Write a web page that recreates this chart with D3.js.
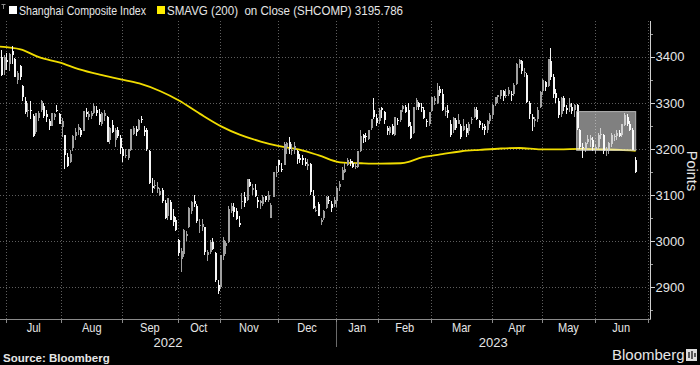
<!DOCTYPE html>
<html>
<head>
<meta charset="utf-8">
<script src="https://cdn.jsdelivr.net/npm/d3@7"></script>
<style>
body { margin: 0; background: #000; }
svg { display: block; }
text { font-family: "Liberation Sans", Arial, sans-serif; fill: #e6e6e6; }
</style>
</head>
<body>
<svg width="700" height="365"></svg>
<script>
// daily candles, one array per month: [day, open, high, low, close]
var jun22 = [[28,3380,3410,3375,3409],[29,3400,3414,3358,3361],[30,3372,3404,3360,3399]]
var jul22 = [[1,3393,3408,3372,3388],[4,3385,3408,3370,3405],[5,3412,3424,3385,3404],[6,3395,3397,3355,3356],
    [7,3350,3370,3340,3364],[8,3380,3381,3350,3356],[11,3337,3339,3305,3313],[12,3305,3313,3275,3281],
    [13,3284,3299,3270,3284],[14,3284,3303,3266,3282],[15,3272,3275,3226,3228],[18,3236,3279,3232,3278],
    [19,3267,3282,3260,3279],[20,3285,3307,3280,3305],[21,3293,3300,3268,3272],[22,3275,3284,3258,3270],
    [25,3260,3266,3242,3250],[26,3250,3278,3250,3277],[27,3269,3278,3262,3275],[28,3285,3296,3280,3282],
    [29,3275,3279,3253,3253]]
var aug22 = [[1,3247,3268,3225,3260],[2,3230,3230,3156,3186],[3,3183,3192,3160,3164],[4,3172,3197,3170,3189],
    [5,3203,3230,3195,3227],[8,3227,3245,3220,3236],[9,3240,3255,3230,3247],[10,3240,3246,3225,3230],
    [11,3238,3283,3238,3282],[12,3280,3288,3270,3276],[15,3270,3283,3262,3276],[16,3271,3282,3265,3277],
    [17,3278,3299,3275,3293],[18,3285,3294,3272,3278],[19,3275,3286,3252,3258],[22,3253,3280,3250,3277],
    [23,3271,3284,3260,3277],[24,3270,3272,3214,3216],[25,3220,3248,3210,3246],[26,3252,3262,3235,3236],
    [29,3220,3246,3205,3240],[30,3240,3247,3224,3228],[31,3223,3230,3190,3202]]
var sep22 = [[1,3200,3204,3172,3184],[2,3186,3200,3180,3186],[5,3180,3200,3175,3199],[6,3197,3243,3196,3243],
    [7,3232,3250,3230,3246],[8,3243,3250,3228,3236],[9,3240,3264,3238,3262],[13,3265,3272,3256,3263],
    [14,3240,3249,3227,3237],[15,3240,3245,3196,3199],[16,3195,3198,3125,3126],[19,3120,3138,3105,3115],
    [20,3120,3133,3114,3122],[21,3113,3128,3105,3117],[22,3100,3115,3098,3108],[23,3110,3115,3083,3088],
    [26,3082,3090,3048,3051],[27,3054,3094,3046,3093],[28,3085,3090,3045,3045],[29,3055,3069,3033,3041],
    [30,3045,3053,3021,3024]]
var oct22 = [[10,3002,3004,2968,2974],[11,2962,2986,2934,2979],[12,2973,3026,2966,3025],[13,3012,3021,3000,3016],
    [14,3030,3075,3028,3071],[17,3065,3088,3060,3084],[18,3088,3101,3075,3081],[19,3077,3080,3040,3044],
    [20,3035,3048,3017,3035],[21,3030,3048,3021,3038],[24,3030,3030,2969,2977],[25,2970,2980,2956,2976],
    [26,2976,3002,2972,2999],[27,2998,3007,2980,2983],[28,2975,2977,2912,2916],[31,2905,2916,2885,2893]]
var nov22 = [[1,2900,2970,2896,2969],[2,2967,3010,2960,3003],[3,2990,3000,2972,2997],[4,2998,3076,2995,3070],
    [7,3065,3082,3062,3077],[8,3075,3082,3052,3064],[9,3065,3073,3045,3048],[10,3040,3055,3030,3036],
    [11,3085,3105,3070,3087],[14,3095,3106,3075,3083],[15,3090,3135,3088,3134],[16,3129,3135,3118,3120],
    [17,3111,3123,3100,3115],[18,3110,3125,3096,3097],[21,3090,3095,3072,3085],[22,3083,3090,3070,3088],
    [23,3080,3100,3076,3096],[24,3097,3099,3085,3089],[25,3090,3108,3086,3101],[28,3050,3083,3050,3078],
    [29,3095,3150,3095,3149],[30,3150,3162,3140,3151]]
var dec22 = [[1,3175,3175,3150,3165],[2,3157,3169,3150,3156],[5,3165,3214,3165,3211],[6,3205,3215,3190,3212],
    [7,3215,3226,3190,3199],[8,3195,3210,3186,3197],[9,3198,3214,3190,3206],[12,3195,3197,3167,3179],
    [13,3180,3190,3170,3176],[14,3180,3186,3166,3176],[15,3171,3180,3163,3168],[16,3163,3178,3155,3167],
    [19,3168,3170,3100,3107],[20,3098,3110,3070,3073],[21,3068,3076,3063,3068],[22,3080,3085,3054,3054],
    [23,3042,3050,3035,3045],[26,3050,3067,3045,3065],[27,3073,3098,3070,3095],[28,3090,3097,3080,3087],
    [29,3080,3087,3064,3073],[30,3080,3095,3075,3089]]
var jan23 = [[3,3087,3119,3074,3116],[4,3117,3130,3109,3123],[5,3132,3160,3132,3155],[6,3151,3170,3148,3157],
    [9,3166,3180,3163,3176],[10,3174,3178,3162,3169],[11,3170,3174,3158,3161],[12,3163,3170,3156,3163],
    [13,3160,3195,3158,3195],[16,3195,3240,3194,3228],[17,3230,3232,3212,3224],[18,3228,3235,3215,3225],
    [19,3222,3241,3220,3240],[20,3245,3265,3240,3265],[30,3285,3310,3265,3269],[31,3268,3275,3250,3256]]
var feb23 = [[1,3260,3288,3255,3285],[2,3288,3290,3268,3285],[3,3280,3282,3255,3263],[6,3245,3250,3230,3238],
    [7,3235,3250,3230,3248],[8,3250,3254,3230,3232],[9,3230,3270,3228,3270],[10,3263,3268,3252,3260],
    [13,3262,3285,3258,3284],[14,3286,3295,3280,3293],[15,3290,3295,3278,3280],[16,3285,3300,3248,3249],
    [17,3250,3258,3222,3224],[20,3235,3290,3232,3290],[21,3290,3310,3285,3307],[22,3300,3302,3285,3291],
    [23,3292,3300,3280,3288],[24,3285,3290,3265,3267],[27,3260,3265,3248,3258],[28,3255,3280,3250,3280]]
var mar23 = [[1,3283,3312,3280,3312],[2,3305,3315,3295,3310],[3,3300,3342,3298,3328],[6,3330,3336,3315,3322],
    [7,3320,3330,3283,3285],[8,3280,3290,3272,3283],[9,3285,3295,3268,3277],[10,3255,3262,3226,3230],
    [13,3240,3270,3235,3268],[14,3263,3268,3240,3245],[15,3255,3275,3255,3263],[16,3250,3255,3222,3226],
    [17,3240,3265,3238,3250],[20,3245,3253,3225,3234],[21,3238,3258,3230,3255],[22,3262,3270,3255,3265],
    [23,3270,3290,3268,3286],[24,3285,3290,3262,3266],[27,3260,3262,3245,3251],[28,3248,3256,3240,3245],
    [29,3250,3255,3230,3240],[30,3240,3262,3235,3261],[31,3260,3278,3255,3273]]
var apr23 = [[3,3273,3297,3265,3296],[4,3297,3313,3293,3312],[6,3313,3318,3300,3316],[7,3315,3328,3308,3327],
    [10,3325,3328,3305,3315],[11,3318,3330,3310,3318],[12,3320,3334,3315,3327],[13,3320,3325,3305,3318],
    [14,3320,3342,3315,3338],[17,3340,3386,3338,3385],[18,3385,3396,3375,3393],[19,3390,3393,3362,3370],
    [20,3365,3375,3355,3367],[21,3360,3365,3300,3301],[24,3300,3305,3265,3275],[25,3270,3275,3238,3264],
    [26,3260,3270,3248,3265],[27,3265,3290,3258,3285],[28,3290,3325,3288,3323]]
var may23 = [[4,3325,3352,3318,3350],[5,3345,3348,3325,3334],[8,3336,3396,3335,3395],[9,3390,3418,3350,3357],
    [10,3357,3362,3310,3319],[11,3322,3330,3300,3310],[12,3305,3310,3268,3273],[15,3275,3313,3270,3311],
    [16,3310,3315,3283,3290],[17,3288,3295,3275,3284],[18,3290,3310,3280,3297],[19,3292,3300,3275,3283],
    [22,3285,3298,3270,3296],[23,3296,3298,3240,3246],[24,3240,3243,3200,3204],[25,3205,3212,3180,3201],
    [26,3200,3215,3193,3213],[29,3215,3230,3210,3221],[30,3220,3230,3205,3224],[31,3220,3225,3195,3205]]
var jun23 = [[1,3200,3210,3190,3204],[2,3205,3235,3200,3231],[5,3232,3245,3222,3232],[6,3230,3232,3190,3196],
    [7,3195,3205,3185,3198],[8,3195,3215,3190,3213],[9,3210,3235,3205,3231],[12,3225,3232,3218,3228],
    [13,3228,3240,3220,3234],[14,3235,3240,3225,3229],[15,3230,3255,3225,3253],[16,3252,3279,3250,3273],
    [19,3270,3275,3250,3255],[20,3255,3260,3238,3241],[21,3240,3245,3197,3198],[26,3175,3182,3148,3151]]

var monthKeys = ["2022-06","2022-07","2022-08","2022-09","2022-10","2022-11","2022-12",
    "2023-01","2023-02","2023-03","2023-04","2023-05","2023-06"]
var monthRows = [jun22,jul22,aug22,sep22,oct22,nov22,dec22,jan23,feb23,mar23,apr23,may23,jun23]
// empty trading-day slots left on the axis after the last candle
var trailingSlots = ["2023-06-27","2023-06-28","2023-06-29","2023-06-30"]

// 200-day simple moving average
var smaPoints = [["2022-06-28",3422],["2022-07-08",3416],["2022-07-19",3399],["2022-07-29",3387],
    ["2022-08-09",3373],["2022-08-19",3361],["2022-08-31",3351],["2022-09-09",3342],["2022-09-22",3325],
    ["2022-10-10",3305],["2022-10-20",3276],["2022-11-01",3249],["2022-11-10",3231],["2022-11-22",3216],
    ["2022-12-01",3206],["2022-12-13",3198],["2022-12-22",3186],["2023-01-04",3171],["2023-01-16",3169],
    ["2023-02-01",3168],["2023-02-13",3169],["2023-02-16",3172],["2023-02-22",3180],["2023-03-06",3188],
    ["2023-03-16",3195],["2023-03-27",3198],["2023-04-07",3201],["2023-04-18",3202],["2023-04-28",3199],
    ["2023-05-12",3199],["2023-05-24",3200],["2023-06-05",3199],["2023-06-14",3198],["2023-06-26",3196]]
var smaLast = "3195.786"

var boxFrom = "2023-05-23", boxTo = "2023-06-26", boxLow = 3197, boxHigh = 3281

var yTicks = [2900,3000,3100,3200,3300,3400]
var yMinorTicks = [2850,2950,3050,3150,3250,3350,3450]
var monthNames = ["Jul","Aug","Sep","Oct","Nov","Dec","Jan","Feb","Mar","Apr","May","Jun"]
var yearLabels = ["2022","2023"]

// ---- build rows
var pad = function(n){ return (n < 10 ? "0" : "") + n }
var rows = []
monthRows.forEach(function(arr, k){
    arr.forEach(function(r){
        rows.push({date: monthKeys[k] + "-" + pad(r[0]), o: r[1], h: r[2], l: r[3], c: r[4]})
    })
})
rows.forEach(function(d, i){ d.i = i })
var slots = rows.map(function(d){ return d.date }).concat(trailingSlots)
var slotIndex = new Map(slots.map(function(s, i){ return [s, i] }))

var plot = {left: 0, right: 650.5, top: 21, bottom: 319.5}

var svg = d3.select("svg")

var xScale = d3.scaleLinear()
    .domain([0, rows.length - 1])
    .range([-0.6, 635.7])

var yScale = d3.scaleLinear()
    .domain([2900, 3400])
    .range([287.3, 56.7])

// ---- grid
var grid = svg.append("g").attr("id", "grid")
    .attr("stroke", "#5e5e5e").attr("stroke-dasharray", "1,2")
    .attr("shape-rendering", "crispEdges")

grid.selectAll("line.h").data(yTicks).enter().append("line")
    .attr("x1", plot.left).attr("x2", 648)
    .attr("y1", function(v){ return Math.round(yScale(v)) + 0.5 })
    .attr("y2", function(v){ return Math.round(yScale(v)) + 0.5 })

// month boundaries
var bounds = []
for (var i = 1; i < slots.length; i++) {
    if (slots[i].slice(0, 7) != slots[i - 1].slice(0, 7)) bounds.push(i - 0.5)
}
bounds.push(slots.length - 0.5)

grid.selectAll("line.v").data(bounds).enter().append("line")
    .attr("x1", function(b){ return Math.round(xScale(b)) + 0.5 })
    .attr("x2", function(b){ return Math.round(xScale(b)) + 0.5 })
    .attr("y1", plot.top).attr("y2", plot.bottom - 1)

// ---- SMA line
var lineGenerator = d3.line()
    .x(function(p){ return xScale(slotIndex.get(p[0])) })
    .y(function(p){ return yScale(p[1]) })
    .curve(d3.curveMonotoneX)

svg.append("path")
    .datum(smaPoints)
    .attr("d", lineGenerator)
    .attr("fill", "none")
    .attr("stroke", "#f0dc00")
    .attr("stroke-width", 1.8)

// ---- candles
var candles = svg.append("g").attr("id", "candles").attr("shape-rendering", "crispEdges")
var colour = function(d){ return d.c >= d.o ? "#a0a0a0" : "#f6f6f6" }
var cx = function(d){ return Math.round(xScale(d.i)) }

candles.selectAll("line").data(rows).enter().append("line")
    .attr("x1", function(d){ return cx(d) - 0.5 })
    .attr("x2", function(d){ return cx(d) - 0.5 })
    .attr("y1", function(d){ return yScale(d.h) })
    .attr("y2", function(d){ return yScale(d.l) })
    .attr("stroke", colour)

candles.selectAll("rect").data(rows).enter().append("rect")
    .attr("x", function(d){ return cx(d) - 1 })
    .attr("width", 2)
    .attr("y", function(d){ return yScale(Math.max(d.o, d.c)) })
    .attr("height", function(d){ return Math.max(1, Math.abs(yScale(d.o) - yScale(d.c))) })
    .attr("fill", colour)

// ---- highlight box
var bx0 = xScale(slotIndex.get(boxFrom)) - 1
var bx1 = xScale(slotIndex.get(boxTo))
svg.append("rect")
    .attr("x", bx0).attr("y", yScale(boxHigh))
    .attr("width", bx1 - bx0).attr("height", yScale(boxLow) - yScale(boxHigh))
    .attr("fill", "#ffffff").attr("fill-opacity", 0.5)
    .attr("stroke", "#d0d0d0").attr("stroke-opacity", 0.8)

// ---- y axis (right)
var yAxis = svg.append("g").attr("id", "yAxis").attr("shape-rendering", "crispEdges")
yAxis.append("line")
    .attr("x1", plot.right).attr("x2", plot.right)
    .attr("y1", plot.top).attr("y2", plot.bottom)
    .attr("stroke", "#cfcfcf")
yAxis.selectAll("line.major").data(yTicks).enter().append("line")
    .attr("x1", plot.right).attr("x2", plot.right + 4)
    .attr("y1", function(v){ return Math.round(yScale(v)) + 0.5 })
    .attr("y2", function(v){ return Math.round(yScale(v)) + 0.5 })
    .attr("stroke", "#cfcfcf")
yAxis.selectAll("line.minor").data(yMinorTicks).enter().append("line")
    .attr("x1", plot.right).attr("x2", plot.right + 2)
    .attr("y1", function(v){ return Math.round(yScale(v)) + 0.5 })
    .attr("y2", function(v){ return Math.round(yScale(v)) + 0.5 })
    .attr("stroke", "#9a9a9a")
yAxis.selectAll("text").data(yTicks).enter().append("text")
    .attr("x", plot.right + 5)
    .attr("y", function(v){ return yScale(v) })
    .attr("dy", "0.36em")
    .style("font-size", "13px")
    .text(function(v){ return v })

svg.append("text")
    .attr("transform", "translate(686.5,171) rotate(90)")
    .attr("text-anchor", "middle")
    .style("font-size", "14.5px")
    .text("Points")

// ---- x axis (bottom)
var xAxis = svg.append("g").attr("id", "xAxis").attr("shape-rendering", "crispEdges")
xAxis.append("line")
    .attr("x1", plot.left).attr("x2", plot.right)
    .attr("y1", plot.bottom).attr("y2", plot.bottom)
    .attr("stroke", "#8a8a8a")
xAxis.selectAll("line.tick").data(bounds).enter().append("line")
    .attr("x1", function(b){ return Math.round(xScale(b)) + 0.5 })
    .attr("x2", function(b){ return Math.round(xScale(b)) + 0.5 })
    .attr("y1", plot.bottom).attr("y2", plot.bottom + 3)
    .attr("stroke", "#8a8a8a")

xAxis.selectAll("text.month").data(monthNames).enter().append("text")
    .attr("x", function(m, k){ return (xScale(bounds[k]) + xScale(bounds[k + 1])) / 2 })
    .attr("y", 332.5)
    .attr("text-anchor", "middle")
    .attr("transform", function(m, k){
        var mx = (xScale(bounds[k]) + xScale(bounds[k + 1])) / 2
        return "translate(" + mx + ",0) scale(0.85,1) translate(" + (-mx) + ",0)"
    })
    .style("font-size", "13px")
    .text(function(m){ return m })

var janX = xScale(bounds[6])
var yearSpans = [[plot.left, janX], [janX, plot.right]]
xAxis.selectAll("text.year").data(yearLabels).enter().append("text")
    .attr("x", function(y, k){ return (yearSpans[k][0] + yearSpans[k][1]) / 2 })
    .attr("y", 347)
    .attr("text-anchor", "middle")
    .style("font-size", "13px")
    .text(function(y){ return y })
xAxis.append("line")
    .attr("x1", Math.round(janX) + 0.5).attr("x2", Math.round(janX) + 0.5)
    .attr("y1", plot.bottom + 2).attr("y2", 347)
    .attr("stroke", "#6a6a6a")

// ---- legend
var legend = svg.append("g").attr("id", "legend")
legend.append("path").attr("d", "M1.5,4.5H5.5M3.5,4.5V9").attr("stroke", "#888").attr("fill", "none")
legend.append("rect").attr("x", 9).attr("y", 6).attr("width", 8).attr("height", 8).attr("fill", "#ffffff")
legend.append("text").attr("x", 19).attr("y", 14.5).style("font-size", "13px")
    .attr("textLength", 127).attr("lengthAdjust", "spacingAndGlyphs")
    .text("Shanghai Composite Index")
legend.append("rect").attr("x", 157).attr("y", 6).attr("width", 8).attr("height", 8).attr("fill", "#ffee00")
legend.append("text").attr("x", 167).attr("y", 14.5).style("font-size", "13px")
    .attr("xml:space", "preserve")
    .attr("textLength", 236).attr("lengthAdjust", "spacingAndGlyphs")
    .text("SMAVG (200)  on Close (SHCOMP) " + smaLast)

// ---- footer
svg.append("text").attr("x", 3).attr("y", 362)
    .style("font-size", "11.5px").style("font-weight", "bold")
    .text("Source: Bloomberg")
svg.append("text").attr("x", 612).attr("y", 360)
    .style("font-size", "15px")
    .text("Bloomberg")
svg.append("rect").attr("x", 686).attr("y", 349).attr("width", 11).attr("height", 12).attr("fill", "#dcdcdc")
svg.append("path").attr("d", "M689,352V358M692,351V359M695,353V357").attr("stroke", "#000").attr("stroke-width", 1.2)
</script>
</body>
</html>
